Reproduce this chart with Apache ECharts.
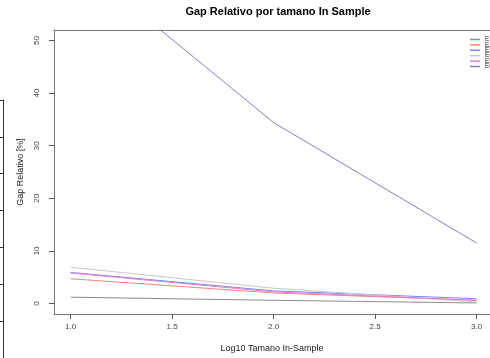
<!DOCTYPE html>
<html>
<head>
<meta charset="utf-8">
<script src="https://cdn.jsdelivr.net/npm/echarts@6/dist/echarts.min.js"></script>
<style>
  html, body { margin: 0; padding: 0; background: #fff; }
  #chart { width: 490px; height: 358px; }
</style>
</head>
<body>
<div id="chart"></div>
<script>
// log10 of the in-sample size
const sizes = [1, 2, 3];

// relative gap (%) per configuration
const seriesNames = ['E1', 'E2', 'E3', 'E4', 'E5', 'E6'];
const gapE1 = [1.2, 0.6, 0.1];
const gapE2 = [4.7, 2.0, 0.6];
const gapE3 = [5.9, 2.4, 0.9];
const gapE4 = [6.9, 2.9, 0.3];
const gapE5 = [5.8, 2.2, 0.6];
const gapE6 = [66, 34.4, 11.5];
const seriesColors = ['#8c8c8c', '#ff7f7f', '#7f7fff', '#c6c9cc', '#e07fc8', '#8080c0'];

const xTicks = [1, 1.5, 2, 2.5, 3];
const yTicks = [0, 10, 20, 30, 40, 50];

const allGaps = [gapE1, gapE2, gapE3, gapE4, gapE5, gapE6];

const chart = echarts.init(document.getElementById('chart'));
const font = 'Liberation Sans, Arial, Helvetica, sans-serif';
const boxLine = { show: true, onZero: false, lineStyle: { color: '#777', width: 1 } };

chart.setOption({
  animation: false,
  backgroundColor: '#fff',
  title: {
    text: 'Gap Relativo por tamano In Sample',
    left: 273, top: 1, textAlign: 'center',
    textStyle: { fontFamily: font, fontSize: 11, fontWeight: 'bold', color: '#000' }
  },
  legend: {
    orient: 'vertical', left: 470, top: 36, padding: 0,
    icon: 'rect', itemWidth: 10, itemHeight: 1.5, itemGap: -1.6,
    textStyle: { fontFamily: font, fontSize: 6.5, color: '#222', padding: 0 },
    data: seriesNames
  },
  grid: [
    { left: 54, top: 30, right: 0, height: 284 },
    { left: 3, top: 100, width: 10, height: 266 }
  ],
  xAxis: [
    {
      type: 'value', gridIndex: 0, min: 0.918, max: 3.066,
      name: 'Log10 Tamano In-Sample', nameLocation: 'middle', nameGap: 30,
      nameTextStyle: { fontFamily: font, fontSize: 9, color: '#222' },
      axisLine: boxLine,
      axisTick: { show: true, inside: false, length: 5, customValues: xTicks, lineStyle: { color: '#555' } },
      axisLabel: { customValues: xTicks, margin: 9, fontFamily: font, fontSize: 8, color: '#444',
        formatter: v => v.toFixed(1) },
      splitLine: { show: false }
    },
    { type: 'value', gridIndex: 1, show: false, min: 0, max: 1 },
    {
      // top edge of the plot frame
      type: 'value', gridIndex: 0, position: 'top', min: 0.918, max: 3.066,
      axisLine: boxLine, axisTick: { show: false }, axisLabel: { show: false }, splitLine: { show: false }
    }
  ],
  yAxis: [
    {
      type: 'value', gridIndex: 0, min: -2, max: 52,
      name: 'Gap Relativo [%]', nameLocation: 'middle', nameGap: 29,
      nameTextStyle: { fontFamily: font, fontSize: 9, color: '#222' },
      axisLine: boxLine,
      axisTick: { show: true, inside: false, length: 5, customValues: yTicks, lineStyle: { color: '#555' } },
      axisLabel: { customValues: yTicks, rotate: 90, margin: 13, fontFamily: font, fontSize: 8, color: '#444' },
      splitLine: { show: false }
    },
    {
      type: 'value', gridIndex: 1, inverse: true, min: 0, max: 7, interval: 1,
      axisLine: { show: true, onZero: false, lineStyle: { color: '#333', width: 1 } },
      axisTick: { show: true, inside: false, length: 3, lineStyle: { color: '#333' } },
      axisLabel: { show: false },
      splitLine: { show: false }
    }
  ],
  series: allGaps.map((vals, i) => ({
    name: seriesNames[i],
    type: 'line',
    xAxisIndex: 0, yAxisIndex: 0,
    showSymbol: false,
    clip: true,
    color: seriesColors[i],
    lineStyle: { width: 1, color: seriesColors[i] },
    data: sizes.map((x, j) => [x, vals[j]])
  }))
});
</script>
</body>
</html>
